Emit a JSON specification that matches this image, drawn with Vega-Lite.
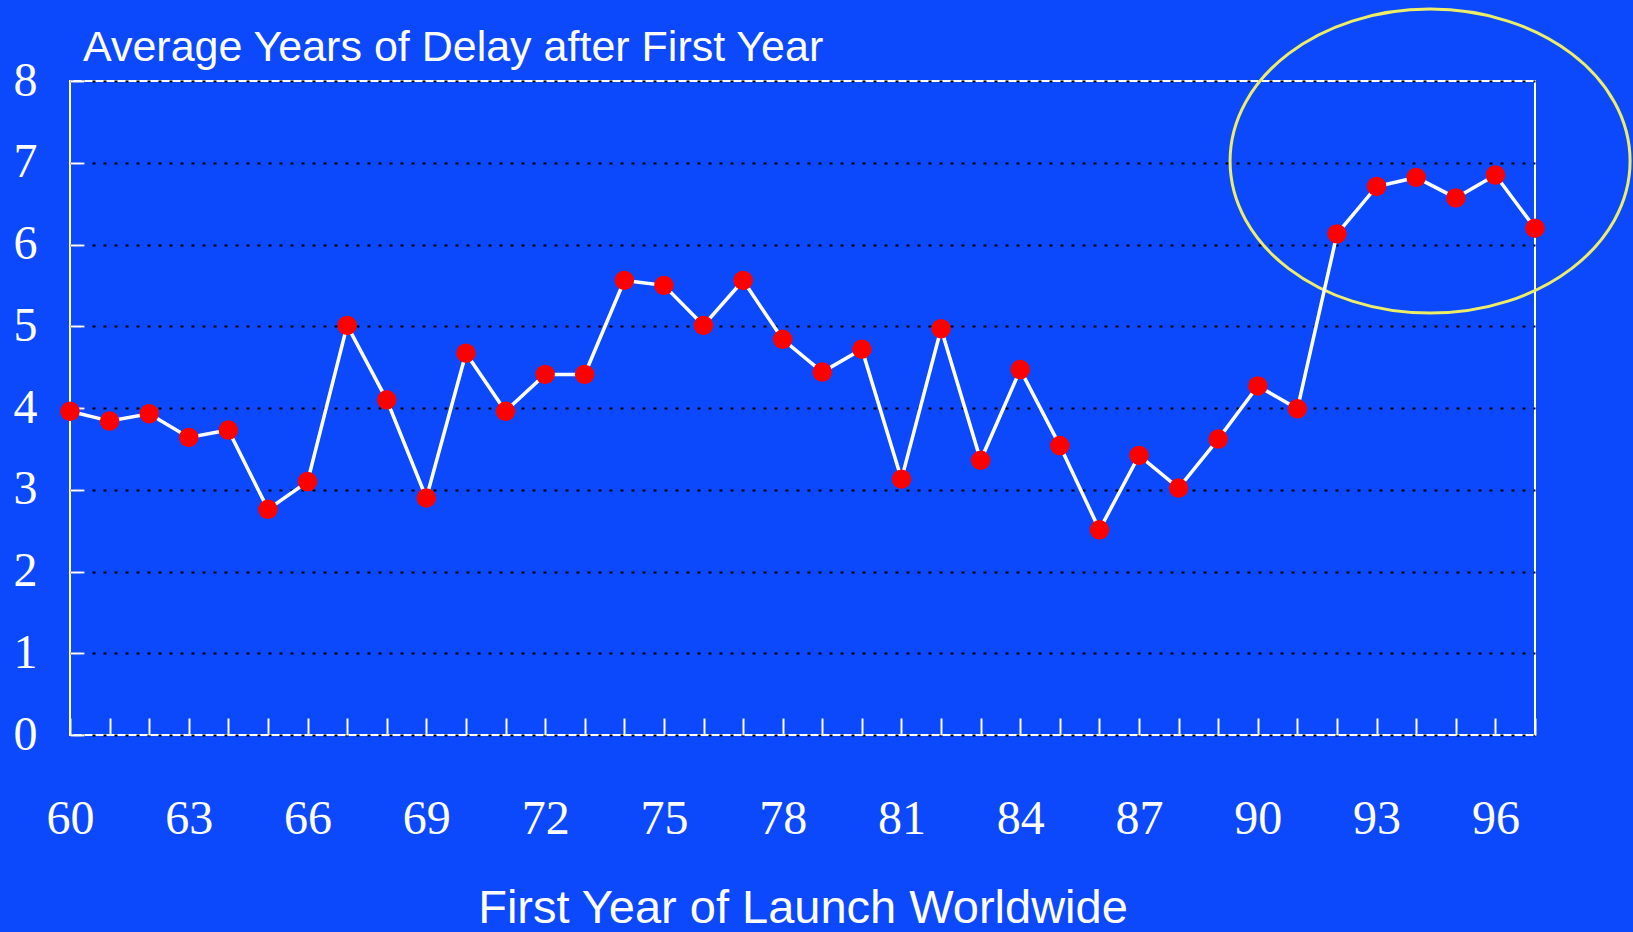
{
  "$schema": "https://vega.github.io/schema/vega-lite/v6.json",
  "width": 1465,
  "height": 654,
  "autosize": {"type": "none"},
  "padding": {"left": 70, "top": 81, "right": 98, "bottom": 197},
  "background": "#0c49fc",
  "config": {
    "view": {"stroke": "white", "strokeWidth": 2},
    "font": "Liberation Sans"
  },
  "title": {
    "text": "Average Years of Delay after First Year",
    "anchor": "start",
    "frame": "group",
    "font": "Liberation Sans",
    "fontSize": 43,
    "fontWeight": "normal",
    "color": "white",
    "baseline": "alphabetic",
    "offset": -101,
    "dx": 13
  },
  "datasets": {
    "delay": [
      {"year": 60, "delay": 3.96},
      {"year": 61, "delay": 3.84},
      {"year": 62, "delay": 3.93},
      {"year": 63, "delay": 3.64},
      {"year": 64, "delay": 3.73},
      {"year": 65, "delay": 2.76},
      {"year": 66, "delay": 3.10},
      {"year": 67, "delay": 5.01},
      {"year": 68, "delay": 4.10},
      {"year": 69, "delay": 2.90},
      {"year": 70, "delay": 4.67},
      {"year": 71, "delay": 3.96},
      {"year": 72, "delay": 4.41},
      {"year": 73, "delay": 4.41},
      {"year": 74, "delay": 5.56},
      {"year": 75, "delay": 5.50},
      {"year": 76, "delay": 5.01},
      {"year": 77, "delay": 5.56},
      {"year": 78, "delay": 4.84},
      {"year": 79, "delay": 4.44},
      {"year": 80, "delay": 4.72},
      {"year": 81, "delay": 3.13},
      {"year": 82, "delay": 4.97},
      {"year": 83, "delay": 3.36},
      {"year": 84, "delay": 4.47},
      {"year": 85, "delay": 3.54},
      {"year": 86, "delay": 2.51},
      {"year": 87, "delay": 3.42},
      {"year": 88, "delay": 3.02},
      {"year": 89, "delay": 3.62},
      {"year": 90, "delay": 4.27},
      {"year": 91, "delay": 3.99},
      {"year": 92, "delay": 6.13},
      {"year": 93, "delay": 6.71},
      {"year": 94, "delay": 6.82},
      {"year": 95, "delay": 6.57},
      {"year": 96, "delay": 6.85},
      {"year": 97, "delay": 6.20}
    ],
    "highlight": [
      {"year": 94.35, "delay": 7.02}
    ]
  },
  "encoding": {
    "x": {
      "field": "year",
      "type": "quantitative",
      "scale": {"domain": [60, 97], "nice": false, "zero": false},
      "axis": {
        "values": [60,61,62,63,64,65,66,67,68,69,70,71,72,73,74,75,76,77,78,79,80,81,82,83,84,85,86,87,88,89,90,91,92,93,94,95,96,97],
        "format": "d",
        "labelExpr": "(datum.value - 60) % 3 == 0 && datum.value < 97 ? datum.label : ''",
        "tickSize": -17,
        "tickColor": "white",
        "tickWidth": 2,
        "domain": false,
        "grid": false,
        "labelFont": "Liberation Serif",
        "labelFontSize": 48,
        "labelColor": "white",
        "labelPadding": 77,
        "labelFlush": false,
        "labelOverlap": false,
        "title": "First Year of Launch Worldwide",
        "titleFont": "Liberation Sans",
        "titleFontSize": 47,
        "titleFontWeight": "normal",
        "titleColor": "white",
        "titlePadding": 42
      }
    },
    "y": {
      "field": "delay",
      "type": "quantitative",
      "scale": {"domain": [0, 8], "nice": false, "zero": true},
      "axis": {
        "values": [0,1,2,3,4,5,6,7,8],
        "format": "d",
        "tickSize": -14,
        "tickColor": "white",
        "tickWidth": 2,
        "domain": false,
        "grid": true,
        "gridColor": "black",
        "gridDash": [3, 8],
        "gridWidth": 2,
        "labelFont": "Liberation Serif",
        "labelFontSize": 48,
        "labelColor": "white",
        "labelPadding": 47,
        "labelFlush": false,
        "labelOverlap": false,
        "title": null
      }
    }
  },
  "layer": [
    {
      "data": {"name": "highlight"},
      "mark": {
        "type": "point",
        "shape": "M -1 0 C -1 -0.4197 -0.5523 -0.76 0 -0.76 C 0.5523 -0.76 1 -0.4197 1 0 C 1 0.4197 0.5523 0.76 0 0.76 C -0.5523 0.76 -1 0.4197 -1 0 Z",
        "size": 160000,
        "filled": false,
        "stroke": "#eeee66",
        "strokeWidth": 3,
        "opacity": 1
      }
    },
    {
      "data": {"name": "delay"},
      "mark": {"type": "line", "color": "white", "strokeWidth": 3.5}
    },
    {
      "data": {"name": "delay"},
      "mark": {"type": "circle", "color": "#ff0000", "size": 380, "opacity": 1}
    }
  ]
}
